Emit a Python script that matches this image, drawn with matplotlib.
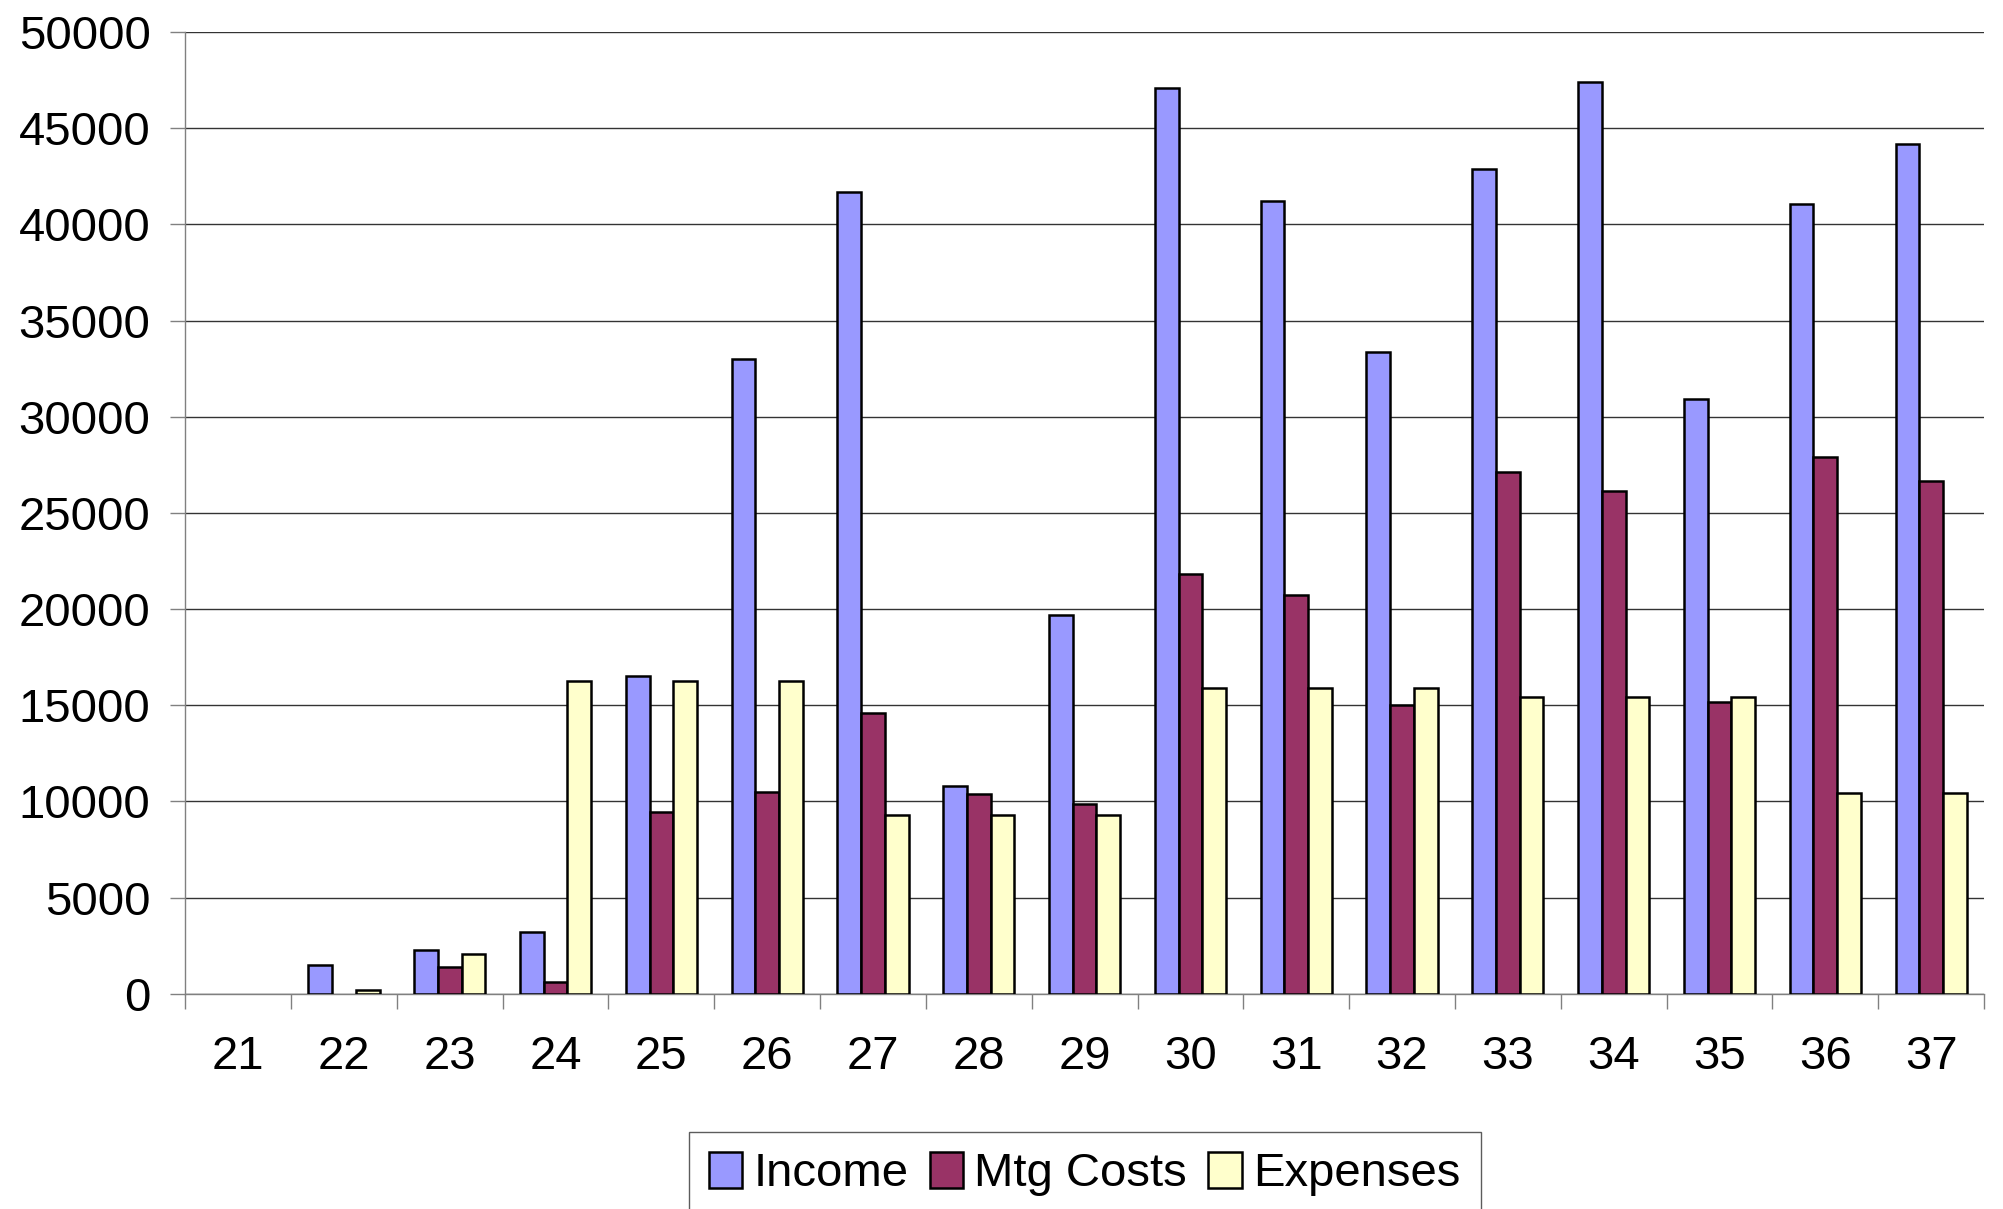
import numpy as np
import matplotlib.pyplot as plt
from matplotlib.patches import Patch

plt.rcParams['font.family'] = ['Liberation Sans', 'DejaVu Sans']

years = ['21', '22', '23', '24', '25', '26', '27', '28', '29',
         '30', '31', '32', '33', '34', '35', '36', '37']
income = [0, 1500, 2300, 3200, 16500, 33000, 41700, 10800, 19700,
          47100, 41200, 33350, 42900, 47400, 30900, 41050, 44200]
mtg_costs = [0, 0, 1400, 600, 9450, 10500, 14600, 10400, 9850,
             21850, 20750, 15000, 27150, 26150, 15150, 27900, 26650]
expenses = [0, 200, 2050, 16280, 16280, 16280, 9300, 9300, 9300,
            15880, 15880, 15880, 15420, 15420, 15420, 10430, 10430]

fig = plt.figure(figsize=(20.03, 12.09), dpi=100)
ax = fig.add_axes([0.0925, 0.178, 0.898, 0.7955])

x = np.arange(len(years))
w = 0.224
series = [(income, '#9999FF', 'Income', -w),
          (mtg_costs, '#993366', 'Mtg Costs', 0),
          (expenses, '#FFFFCC', 'Expenses', w)]
handles = []
for vals, col, lab, off in series:
    bars = ax.bar(x + off, vals, w, color=col, edgecolor='black', linewidth=1.8,
                  zorder=3)
    # zero-height bars are not drawn in the original
    for b, v in zip(bars, vals):
        if v == 0:
            b.set_visible(False)
    handles.append(Patch(facecolor=col, edgecolor='black', linewidth=1.8, label=lab))

ax.set_xlim(-0.5, len(years) - 0.5)
ax.set_ylim(0, 50000)
ax.set_yticks(np.arange(0, 50001, 5000))
ax.yaxis.grid(True, color='#333333', linewidth=1)
ax.set_axisbelow(True)

ax.set_xticks(x)
ax.set_xticklabels(years)
ax.set_xticks(np.arange(-0.5, len(years), 1), minor=True)
ax.tick_params(axis='x', which='major', length=0, pad=30, labelsize=34)
ax.tick_params(axis='x', which='minor', length=11, color='#808080', width=1)
ax.tick_params(axis='y', length=11, color='#808080', width=1, pad=14, labelsize=34)

for s in ['top', 'right']:
    ax.spines[s].set_visible(False)
for s in ['left', 'bottom']:
    ax.spines[s].set_color('#808080')
    ax.spines[s].set_linewidth(1)

leg = fig.legend(handles=handles, loc='upper center', bbox_to_anchor=(0.5415, 0.0637),
                 ncol=3, fontsize=34, frameon=True, fancybox=False, shadow=False,
                 handlelength=0.7, handleheight=0.8, handletextpad=0.25,
                 columnspacing=0.45, borderpad=0.42, borderaxespad=0)
leg.get_frame().set_edgecolor('#333333')
leg.get_frame().set_linewidth(1)

fig.savefig('out.png', dpi=100)
